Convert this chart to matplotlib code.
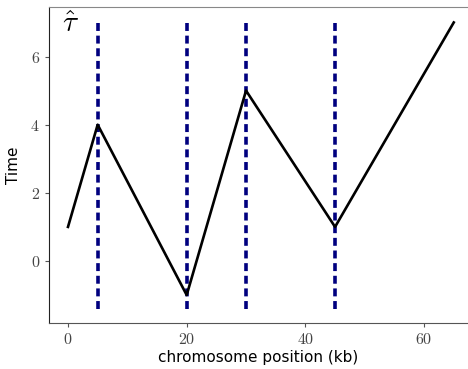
import matplotlib
matplotlib.use("Agg")
import matplotlib.pyplot as plt
from matplotlib.ticker import FuncFormatter

plt.rcParams['mathtext.fontset'] = 'cm'

positions = [0, 5, 20, 30, 45, 65]
times = [1, 4, -1, 5, 1, 7]
breakpoints = [5, 20, 30, 45]
vline_low, vline_high = -1.4, 7.0

fig = plt.figure(figsize=(4.68, 3.69), dpi=100)
ax = fig.add_axes([0.1047, 0.1247, 0.8953, 0.856])

for b in breakpoints:
    ax.vlines(b, vline_low, vline_high, colors='#00007f', linestyles=(0, (2.2, 1.3)), linewidth=2.6)
ax.plot(positions, times, color='black', linewidth=1.9)

ax.set_xlim(-3.2, 67.4)
ax.set_ylim(-1.82, 7.45)
ax.set_xticks([0, 20, 40, 60])
ax.set_yticks([0, 2, 4, 6])
fmt = FuncFormatter(lambda v, p: r'$%d$' % v)
ax.xaxis.set_major_formatter(fmt)
ax.yaxis.set_major_formatter(fmt)
ax.tick_params(colors='#555555', labelcolor='#444444', labelsize=11.5, length=3, width=0.8)
ax.spines['right'].set_visible(False)
ax.spines['top'].set_color('#888888')
ax.spines['left'].set_color('#222222')
ax.spines['bottom'].set_color('#555555')
ax.set_xlabel('chromosome position (kb)', fontsize=11, labelpad=2)
ax.set_ylabel('Time', fontsize=11, labelpad=7)
ax.text(0.03, 0.99, r'$\hat{\tau}$', transform=ax.transAxes, fontsize=21, va='top', ha='left')

fig.savefig('out.png', dpi=100)
